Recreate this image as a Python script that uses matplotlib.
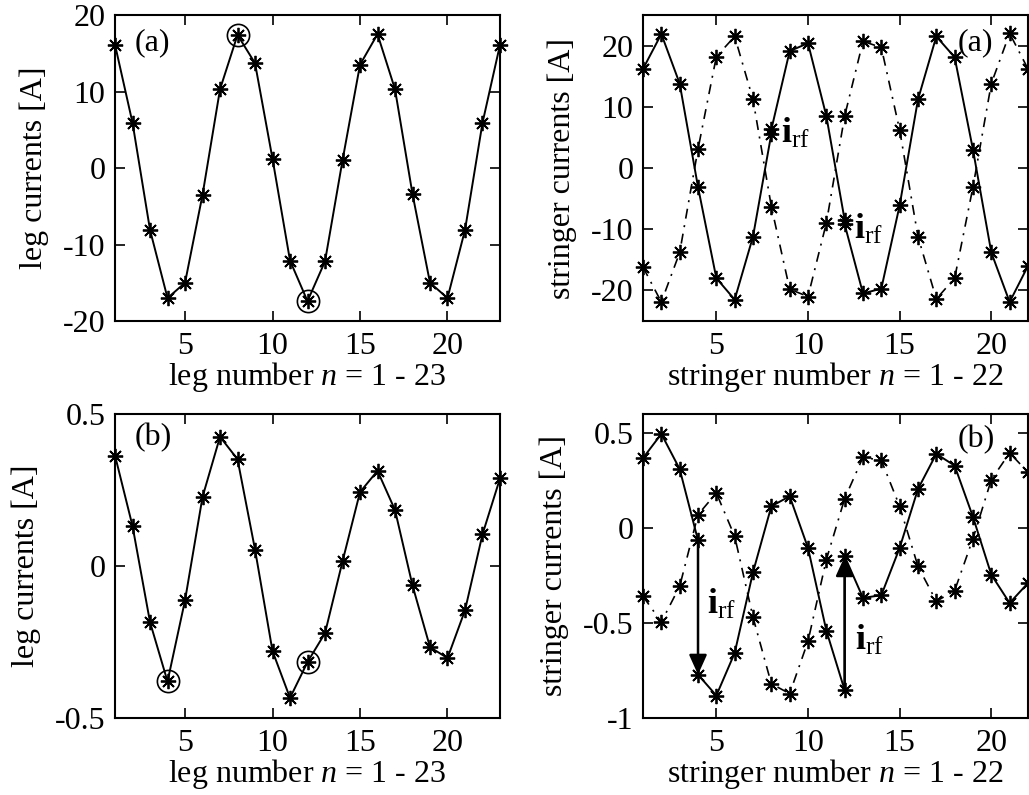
import matplotlib
matplotlib.use("Agg")
import matplotlib.pyplot as plt

plt.rcParams["font.family"] = "serif"
plt.rcParams["font.serif"] = ["Liberation Serif", "DejaVu Serif"]
plt.rcParams["mathtext.fontset"] = "custom"
plt.rcParams["mathtext.rm"] = "Liberation Serif"
plt.rcParams["mathtext.it"] = "Liberation Serif:italic"
plt.rcParams["mathtext.bf"] = "Liberation Serif:bold"
plt.rcParams["axes.unicode_minus"] = False

# leg currents, (a) and (b)
legs = list(range(1, 24))
leg_a = [16.1, 5.9, -8.1, -17.0, -15.0, -3.5, 10.3, 17.4, 13.7, 1.2, -12.1, -17.4,
         -12.2, 1.0, 13.5, 17.5, 10.3, -3.4, -15.0, -17.0, -8.1, 5.9, 16.1]
leg_b = [0.363, 0.131, -0.185, -0.380, -0.113, 0.227, 0.425, 0.351, 0.054, -0.280,
         -0.434, -0.316, -0.221, 0.015, 0.243, 0.313, 0.184, -0.064, -0.267, -0.303,
         -0.146, 0.104, 0.288]
leg_a_circ = [8, 12]
leg_b_circ = [4, 12]

# stringer currents (solid has two values at the stringers next to the circled legs)
str_a_x = [1, 2, 3, 4, 5, 6, 7, 8, 8, 9, 10, 11, 12, 12, 13, 14, 15, 16, 17, 18, 19, 20, 21, 22]
str_a_solid = [16.2, 21.9, 13.8, -3.1, -18.0, -21.5, -11.2, 5.6, 6.3, 19.1, 20.4, 8.5,
               -8.5, -9.2, -20.5, -19.7, -6.1, 11.2, 21.5, 18.1, 3.0, -13.8, -21.9, -16.0]
str_b_x = [1, 2, 3, 4, 4, 5, 6, 7, 8, 9, 10, 11, 12, 12, 13, 14, 15, 16, 17, 18, 19, 20, 21, 22]
str_b_solid = [0.368, 0.495, 0.31, -0.065, -0.772, -0.882, -0.658, -0.233, 0.114, 0.167,
               -0.105, -0.54, -0.854, -0.149, -0.368, -0.354, -0.105, 0.205, 0.39, 0.328,
               0.058, -0.246, -0.395, -0.29]
stringers = list(range(1, 23))
str_a_dash = [-16.2, -21.9, -13.8, 3.1, 18.2, 21.5, 11.2, -6.3, -19.8, -21.0, -9.0, 8.5,
              20.7, 19.7, 6.2, -11.2, -21.4, -18.0, -3.1, 13.8, 22.0, 16.2]
str_b_dash = [-0.36, -0.495, -0.307, 0.07, 0.184, -0.044, -0.47, -0.82, -0.872, -0.596,
              -0.167, 0.154, 0.372, 0.356, 0.114, -0.202, -0.386, -0.33, -0.056, 0.254,
              0.395, 0.293]

FS = 23
STAR = (8, 2, 0)
mk = dict(marker=STAR, markersize=11, markeredgewidth=1.3, color="k", clip_on=False)
DASHDOT = (0, (6, 4, 1.2, 4))


def style(ax, xmax, ylim, yticks, xlabel, ylabel):
    ax.set_xlim(1, xmax)
    ax.set_ylim(*ylim)
    ax.set_xticks([5, 10, 15, 20])
    ax.set_yticks(yticks)
    ax.set_yticklabels([f"{t:g}" for t in yticks])
    ax.tick_params(direction="in", top=True, right=True, length=7, width=1.2,
                   labelsize=FS, pad=7)
    ax.tick_params(axis="x", pad=8)
    for s in ax.spines.values():
        s.set_linewidth(1.5)
    ax.set_xlabel(xlabel, fontsize=FS, labelpad=-1)
    ax.set_ylabel(ylabel, fontsize=FS, labelpad=10)


fig = plt.figure(figsize=(10.29, 7.95), dpi=100)
ax1 = fig.add_axes([0.1118, 0.5962, 0.3741, 0.3849])
ax2 = fig.add_axes([0.6249, 0.5962, 0.3741, 0.3849])
ax3 = fig.add_axes([0.1118, 0.0969, 0.3741, 0.3824])
ax4 = fig.add_axes([0.6249, 0.0969, 0.3741, 0.3824])

# leg panels
for ax, vals, circ in [(ax1, leg_a, leg_a_circ), (ax3, leg_b, leg_b_circ)]:
    ax.plot(legs, vals, "-", lw=1.4, **mk)
    ax.plot(circ, [vals[c - 1] for c in circ], "o", markersize=16, mfc="none",
            mec="k", mew=1.2, clip_on=False)

style(ax1, 23, (-20, 20), [-20, -10, 0, 10, 20], "leg number $n$ = 1 - 23", "leg currents [A]")
style(ax3, 23, (-0.5, 0.5), [-0.5, 0, 0.5], "leg number $n$ = 1 - 23", "leg currents [A]")

# stringer panels
ax2.plot(str_a_x, str_a_solid, "-", lw=1.4, **mk)
ax2.plot(stringers, str_a_dash, linestyle=DASHDOT, lw=1.2, **mk)
ax4.plot(str_b_x, str_b_solid, "-", lw=1.4, **mk)
ax4.plot(stringers, str_b_dash, linestyle=DASHDOT, lw=1.2, **mk)

style(ax2, 22, (-25, 25), [-20, -10, 0, 10, 20], "stringer number $n$ = 1 - 22",
      "stringer currents [A]")
style(ax4, 22, (-1, 0.6), [-1, -0.5, 0, 0.5], "stringer number $n$ = 1 - 22",
      "stringer currents [A]")

irf = r"$\mathbf{i}_{\mathrm{rf}}$"
ax2.text(8.5, 4.1, irf, fontsize=FS + 3, ha="left", va="baseline")
ax2.text(12.49, -11.5, irf, fontsize=FS + 3, ha="left", va="baseline")
ax4.text(4.51, -0.453, irf, fontsize=FS + 3, ha="left", va="baseline")
ax4.text(12.55, -0.64, irf, fontsize=FS + 3, ha="left", va="baseline")

arrow = dict(arrowstyle="-|>,head_length=0.6,head_width=0.27", mutation_scale=20,
             color="k", lw=1.8, shrinkA=0, shrinkB=0)
ax4.annotate("", xy=(4, str_b_solid[4]), xytext=(4, str_b_solid[3]), arrowprops=arrow)
ax4.annotate("", xy=(12, str_b_solid[13]), xytext=(12, str_b_solid[12]), arrowprops=arrow)

for ax, lab, xf, yf in [(ax1, "(a)", 0.052, 0.958), (ax2, "(a)", 0.818, 0.958),
                        (ax3, "(b)", 0.052, 0.97), (ax4, "(b)", 0.818, 0.964)]:
    ax.text(xf, yf, lab, transform=ax.transAxes, fontsize=FS, ha="left", va="top")

fig.savefig("out.png", dpi=100)
plt.close(fig)
